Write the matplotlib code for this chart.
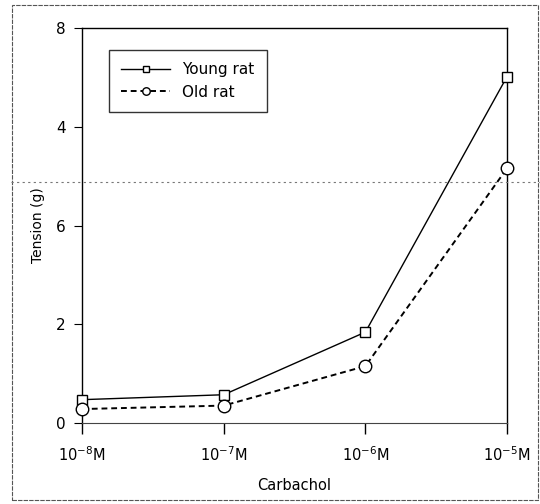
import matplotlib
matplotlib.use("Agg")
import matplotlib.pyplot as plt
from matplotlib.lines import Line2D
from matplotlib.patches import Rectangle

plt.rcParams['font.family'] = ['DejaVu Sans']

concentrations = [r"10$^{-8}$M", r"10$^{-7}$M", r"10$^{-6}$M", r"10$^{-5}$M"]
young_rat = [0.47, 0.57, 1.84, 7.02]
old_rat = [0.28, 0.35, 1.15, 5.16]
ytick_values = [0, 2, 4, 6, 8]
ytick_labels = ["0", "2", "6", "4", "8"]

fig = plt.figure(figsize=(5.4, 5.04), dpi=100)
ax = fig.add_axes([0.152, 0.161, 0.787, 0.783])

x = list(range(len(concentrations)))
ax.plot(x, young_rat, '-', color='black', lw=1.0, marker='s', markersize=7,
        markerfacecolor='white', markeredgecolor='black', markeredgewidth=1.0,
        label='Young rat', clip_on=False, zorder=3)
ax.plot(x, old_rat, '--', color='black', lw=1.4, dashes=(3, 2), marker='o', markersize=9,
        markerfacecolor='white', markeredgecolor='black', markeredgewidth=1.0,
        label='Old rat', clip_on=False, zorder=3)

ax.set_xlim(0, 3)
ax.set_ylim(0, 8)
ax.set_xticks(x)
ax.set_xticklabels(concentrations, fontsize=10.5)
ax.set_yticks(ytick_values)
ax.set_yticklabels(ytick_labels, fontsize=11)
ax.tick_params(axis='x', direction='out', length=8, width=1, pad=8)
ax.tick_params(axis='y', direction='out', length=6, width=0.8, pad=6)
ax.set_xlabel('Carbachol', fontsize=10.5, labelpad=10)
ax.set_ylabel('Tension (g)', fontsize=10, labelpad=8)

for side in ['left', 'right', 'top']:
    ax.spines[side].set_linewidth(1.0)
ax.spines['bottom'].set_linewidth(0.8)
ax.spines['bottom'].set_linestyle((0, (6, 1)))
ax.spines['bottom'].set_color('#444444')

leg = ax.legend(loc='upper left', bbox_to_anchor=(0.045, 0.965), fontsize=11,
                frameon=True, fancybox=False, edgecolor='black', handlelength=3.2,
                borderpad=0.8, labelspacing=0.5, handletextpad=0.8, markerscale=0.6)
leg.get_frame().set_linewidth(1.0)

# scan artefacts: outer frame and horizontal stray line
fig.add_artist(Rectangle((0.022, 0.008), 0.975, 0.982, transform=fig.transFigure,
                         fill=False, edgecolor='#555555', lw=0.8, ls=(0, (4, 1))))
fig.add_artist(Line2D([0.02, 1.0], [0.639, 0.639], transform=fig.transFigure,
                      color='#777777', lw=0.8, ls=(0, (2, 3))))

fig.savefig('out.png', dpi=100)
